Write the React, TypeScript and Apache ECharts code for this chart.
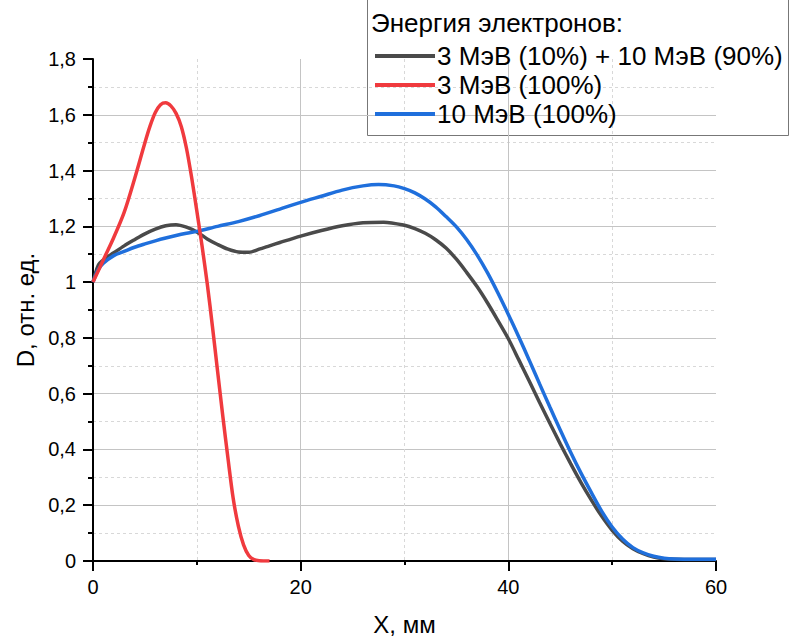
import React, { useEffect, useRef } from "react";
import * as echarts from "echarts";

const seriesNames = ["3 МэВ (10%) + 10 МэВ (90%)", "3 МэВ (100%)", "10 МэВ (100%)"];
const legendTitle = "Энергия электронов:";
const xAxisTitle = "X, мм";
const yAxisTitle = "D, отн. ед.";

const mixX = [0, 0.5, 1, 2, 3, 4, 5, 6, 7, 8, 9, 10, 11, 12, 13, 14, 15, 16, 17, 18, 20, 22, 24, 26, 28, 30, 31, 32, 33, 34, 35, 36, 37, 38, 39, 40, 41, 42, 43, 44, 45, 46, 47, 48, 49, 50, 51, 52, 53, 54, 55, 56, 58, 60];
const mixY = [1.0, 1.06, 1.08, 1.105, 1.13, 1.152, 1.173, 1.19, 1.202, 1.206, 1.197, 1.18, 1.155, 1.135, 1.118, 1.108, 1.107, 1.118, 1.13, 1.142, 1.165, 1.185, 1.202, 1.213, 1.215, 1.204, 1.192, 1.175, 1.152, 1.122, 1.082, 1.034, 0.983, 0.925, 0.862, 0.797, 0.722, 0.646, 0.569, 0.494, 0.42, 0.349, 0.281, 0.218, 0.16, 0.11, 0.071, 0.044, 0.026, 0.014, 0.008, 0.006, 0.005, 0.005];

const e3X = [0, 1, 2, 3, 4, 5, 5.5, 6, 6.5, 7, 7.5, 8, 8.5, 9, 9.5, 10, 10.5, 11, 11.5, 12, 12.5, 13, 13.5, 14, 14.5, 15, 15.5, 16, 17];
const e3Y = [1.0, 1.08, 1.16, 1.25, 1.37, 1.5, 1.56, 1.608, 1.636, 1.643, 1.632, 1.605, 1.558, 1.48, 1.375, 1.255, 1.13, 0.995, 0.842, 0.68, 0.52, 0.368, 0.225, 0.125, 0.058, 0.02, 0.005, 0.001, 0.0];

const e10X = [0, 0.5, 1, 2, 3, 4, 5, 6, 7, 8, 9, 10, 12, 14, 16, 18, 20, 22, 24, 26, 27.5, 29, 30, 31, 32, 33, 34, 35, 36, 37, 38, 39, 40, 41, 42, 43, 44, 45, 46, 47, 48, 49, 50, 51, 52, 53, 54, 55, 56, 58, 60];
const e10Y = [1.0, 1.045, 1.068, 1.095, 1.11, 1.125, 1.137, 1.148, 1.158, 1.167, 1.175, 1.182, 1.2, 1.217, 1.238, 1.262, 1.286, 1.308, 1.33, 1.345, 1.35, 1.345, 1.335, 1.32, 1.298, 1.27, 1.235, 1.198, 1.152, 1.097, 1.033, 0.961, 0.884, 0.804, 0.721, 0.636, 0.552, 0.47, 0.39, 0.315, 0.245, 0.178, 0.122, 0.079, 0.048, 0.029, 0.017, 0.01, 0.007, 0.006, 0.006];

const colors = ["#4a4a4a", "#f03a3e", "#1f6fdc"];

const pairs = (xs: number[], ys: number[]) => xs.map((x, i) => [x, ys[i]]);

export default function App() {
  const ref = useRef<HTMLDivElement>(null);
  useEffect(() => {
    if (!ref.current) return;
    const chart = echarts.init(ref.current, null, { renderer: "svg" });
    const font = "'Liberation Sans', Arial, sans-serif";
    const datasets = [pairs(mixX, mixY), pairs(e3X, e3Y), pairs(e10X, e10Y)];
    chart.setOption({
      animation: false,
      textStyle: { fontFamily: font },
      grid: { left: 93, right: 76, top: 59, bottom: 79, containLabel: false },
      xAxis: {
        type: "value",
        min: 0,
        max: 60,
        interval: 20,
        name: xAxisTitle,
        nameLocation: "middle",
        nameGap: 51,
        nameTextStyle: { fontSize: 24, color: "#000", fontFamily: font },
        axisLine: { show: true, onZero: false, lineStyle: { color: "#000", width: 2 } },
        axisTick: { show: true, inside: false, length: 10, lineStyle: { color: "#000", width: 2 } },
        minorTick: { show: true, splitNumber: 2, length: 4, lineStyle: { color: "#000", width: 2 } },
        axisLabel: { fontSize: 20, color: "#000", margin: 16, fontFamily: font },
        splitLine: { show: true, showMinLine: false, showMaxLine: false, lineStyle: { color: "#c4c4c4", width: 1 } },
        minorSplitLine: { show: true, lineStyle: { color: "#d8d8d8", width: 1, type: [3, 3] } },
      },
      yAxis: {
        type: "value",
        min: 0,
        max: 1.8,
        interval: 0.2,
        name: yAxisTitle,
        nameLocation: "middle",
        nameGap: 56,
        nameTextStyle: { fontSize: 24, color: "#000", fontFamily: font },
        axisLine: { show: true, onZero: false, lineStyle: { color: "#000", width: 2 } },
        axisTick: { show: true, inside: false, length: 10, lineStyle: { color: "#000", width: 2 } },
        minorTick: { show: true, splitNumber: 2, length: 5, lineStyle: { color: "#000", width: 2 } },
        axisLabel: {
          fontSize: 20,
          color: "#000",
          margin: 17,
          fontFamily: font,
          formatter: (v: number) => String(Math.round(v * 10) / 10).replace(".", ","),
        },
        splitLine: { show: true, showMinLine: false, showMaxLine: false, lineStyle: { color: "#c4c4c4", width: 1 } },
        minorSplitLine: { show: true, lineStyle: { color: "#d8d8d8", width: 1, type: [3, 3] } },
      },
      legend: {
        show: true,
        orient: "vertical",
        left: 370,
        top: 38,
        itemWidth: 60,
        itemHeight: 4,
        itemGap: 3,
        icon: "rect",
        data: seriesNames,
        textStyle: { fontSize: 26, color: "#000", fontFamily: font, padding: [0, 0, 0, -3] },
      },
      graphic: [
        {
          type: "rect",
          shape: { x: 367.5, y: -2, width: 421, height: 137.5 },
          style: { fill: "#fff", stroke: "#777", lineWidth: 1 },
          z: -1,
          silent: true,
        },
        {
          type: "text",
          x: 371,
          y: 23,
          style: { text: legendTitle, fontSize: 26, fill: "#000", fontFamily: font, textVerticalAlign: "middle" },
          silent: true,
        },
      ],
      series: datasets.map((d, i) => ({
        name: seriesNames[i],
        type: "line",
        data: d,
        showSymbol: false,
        symbol: "none",
        smooth: 0.3,
        z: i === 1 ? 4 : 3,
        lineStyle: { color: colors[i], width: 3.5 },
        itemStyle: { color: colors[i] },
      })),
    });
    return () => chart.dispose();
  }, []);
  return <div ref={ref} style={{ width: 792, height: 641, position: "absolute", left: 0, top: 0 }} />;
}
